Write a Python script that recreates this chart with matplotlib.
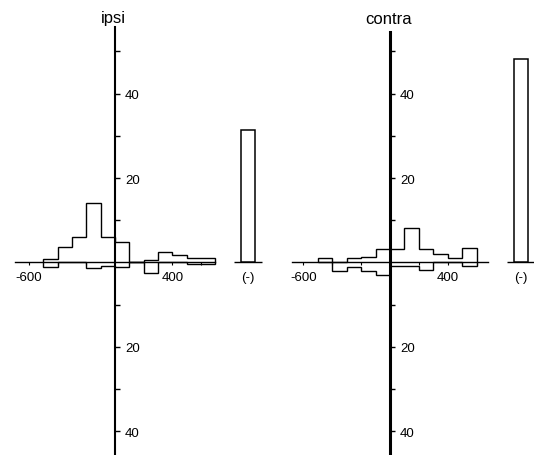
import numpy as np
import matplotlib
matplotlib.use("Agg")
import matplotlib.pyplot as plt

plt.rcParams['font.family'] = ['Liberation Sans', 'DejaVu Sans']

# ---- data ----
panel_titles = ["ipsi", "contra"]
ipsi_edges = [-500, -400, -300, -200, -100, 0, 100, 200, 300, 400, 500, 600, 700]
ipsi_pos = [0.8, 3.7, 6.1, 14.0, 6.1, 4.9, 0.0, 0.6, 2.6, 1.8, 1.0, 1.0]
ipsi_neg = [-1.0, 0.0, 0.0, -1.2, -0.9, -1.0, 0.0, -2.4, 0.0, 0.0, -0.4, -0.4]
ipsi_bar = 31.5

contra_edges = [-500, -400, -300, -200, -100, 0, 100, 200, 300, 400, 500, 600]
contra_pos = [1.0, 0.0, 1.0, 1.2, 3.1, 3.2, 8.1, 3.2, 2.0, 1.0, 3.5]
contra_neg = [0.0, -2.0, -1.1, -2.0, -3.0, -0.8, -0.8, -1.7, 0.0, 0.0, -0.8]
contra_bar = 48.3

bar_label = "(-)"
y_ticks = [-40, -30, -20, -10, 10, 20, 30, 40, 50]
y_labelled = [-40, -20, 20, 40]
x_ticks = [-600, -400, -200, 200, 400, 600]
x_labelled = [-600, 400]

# ---- layout ----
W, H = 534, 456
fig = plt.figure(figsize=(W / 100, H / 100), dpi=100)
fig.patch.set_facecolor('white')

ylim = (-45.62, 62.44)

panels = [
    dict(title=panel_titles[0], edges=ipsi_edges, pos=ipsi_pos, neg=ipsi_neg, bar=ipsi_bar,
         rect=[0, 0, 0.5, 1], xlim=(-801.4, 1059.2), bar_c=927, bar_w=100,
         xspan=(-697, 697), ytop=55.8, axlw=1.5, title_xy=(113, 19)),
    dict(title=panel_titles[1], edges=contra_edges, pos=contra_pos, neg=contra_neg, bar=contra_bar,
         rect=[0.5, 0, 0.5, 1], xlim=(-851.2, 996.5), bar_c=907, bar_w=97,
         xspan=(-680, 680), ytop=54.6, axlw=2.2, title_xy=(389, 20)),
]

for p in panels:
    ax = fig.add_axes(p['rect'])
    ax.set_facecolor('none')

    lw = 1.0
    ax.stairs(p['pos'], p['edges'], baseline=0, color='black', lw=lw)
    ax.stairs(p['neg'], p['edges'], baseline=0, color='black', lw=lw)

    # (-) bar
    ax.bar([p['bar_c']], [p['bar']], width=p['bar_w'], facecolor='white',
           edgecolor='black', linewidth=1.1, zorder=3)
    ax.hlines(0, p['bar_c'] - p['bar_w'], p['bar_c'] + p['bar_w'], color='black', lw=1.0)
    ax.text(p['bar_c'], -3.4, bar_label, ha='center', va='center', fontsize=9.5)

    # spines
    for s in ['top', 'left']:
        ax.spines[s].set_visible(False)
    ax.spines['right'].set_position(('data', 0))
    ax.spines['right'].set_bounds(ylim[0], p['ytop'])
    ax.spines['right'].set_linewidth(p['axlw'])
    ax.spines['bottom'].set_position(('data', 0))
    ax.spines['bottom'].set_bounds(*p['xspan'])
    ax.spines['bottom'].set_linewidth(1.0)

    ax.yaxis.tick_right()
    ax.set_yticks(y_ticks)
    ax.set_yticklabels([str(abs(v)) if v in y_labelled else '' for v in y_ticks])
    ax.tick_params(axis='y', direction='out', length=3.6, width=1.0, pad=3.6, labelsize=9.5)

    ax.set_xticks(x_ticks)
    ax.set_xticklabels([str(v) if v in x_labelled else '' for v in x_ticks])
    ax.tick_params(axis='x', direction='out', length=2.0, width=0.8, pad=3.8, labelsize=9.5)

    # limits last so that tick setting does not widen them
    ax.set_xlim(*p['xlim'])
    ax.set_ylim(*ylim)

    fig.text(p['title_xy'][0] / W, 1 - p['title_xy'][1] / H, p['title'],
             ha='center', va='center', fontsize=12)

fig.savefig("out.png", dpi=100)
